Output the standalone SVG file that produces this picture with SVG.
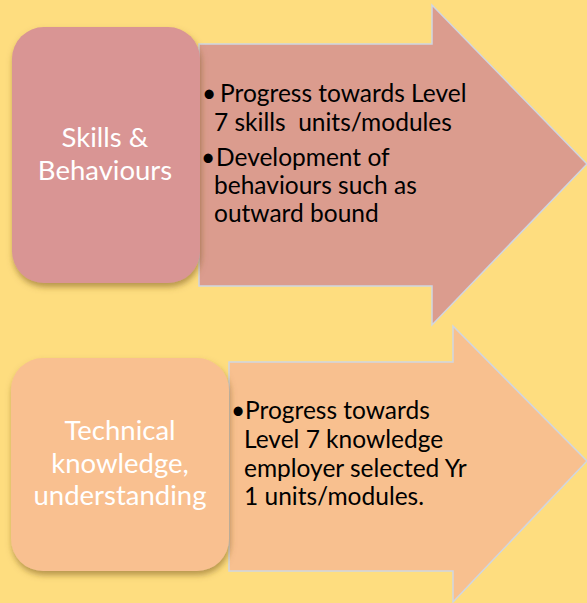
<svg xmlns="http://www.w3.org/2000/svg" width="587" height="603" viewBox="0 0 587 603">
<defs>
<filter id="sh" x="-20%" y="-20%" width="140%" height="140%">
<feDropShadow dx="1" dy="4" stdDeviation="3" flood-color="#7a5a20" flood-opacity="0.55"/>
</filter>
<style>
.lbl{font-family:Lato,"Liberation Sans",sans-serif;font-size:27.5px;fill:#ffffff;text-anchor:middle}
.body{font-family:Lato,"Liberation Sans",sans-serif;font-size:24.5px;fill:#000000;white-space:pre}
.arrow{stroke:#cfd6e2;stroke-width:1.5}
</style>
</defs>
<rect x="0" y="0" width="587" height="603" fill="#fedd7f"/>
<g id="connectors">
<path id="arrow1" class="arrow" fill="#db9c8e" d="M199,44 H432 V5 L587,164 L432,325 V286 H199 Z"/>
<path id="arrow2" class="arrow" fill="#f8c08f" d="M229,362 H453 V326 L587,461 L453,602 V571 H229 Z"/>
</g>
<g id="node-skills">
<rect x="12" y="27" width="188" height="256" rx="32" fill="#d99594" filter="url(#sh)"/>
<text class="lbl" x="105" y="147">Skills &amp;</text>
<text class="lbl" x="105" y="180">Behaviours</text>
</g>
<g id="node-skills-detail">
<text class="body" xml:space="preserve"><tspan x="202" y="102">•</tspan><tspan x="220" y="102">Progress towards Level</tspan><tspan x="214" y="131">7 skills  units/modules</tspan><tspan x="201" y="166">•</tspan><tspan x="216" y="166">Development of</tspan><tspan x="214" y="194">behaviours such as</tspan><tspan x="214" y="222">outward bound</tspan></text>
</g>
<g id="node-technical">
<rect x="11" y="358" width="218" height="213" rx="32" fill="#f9c090" filter="url(#sh)"/>
<text class="lbl" x="120" y="440">Technical</text>
<text class="lbl" x="120" y="473">knowledge,</text>
<text class="lbl" x="120" y="505">understanding</text>
</g>
<g id="node-technical-detail">
<text class="body"><tspan x="231" y="419">•</tspan><tspan x="245" y="419">Progress towards</tspan><tspan x="244" y="448">Level 7 knowledge</tspan><tspan x="244" y="477">employer selected Yr</tspan><tspan x="244" y="505">1 units/modules.</tspan></text>
</g>
</svg>
